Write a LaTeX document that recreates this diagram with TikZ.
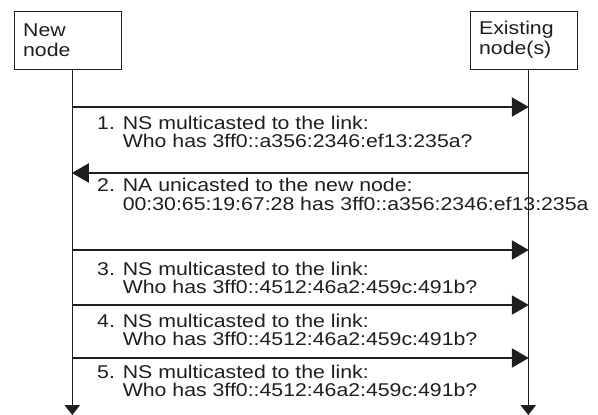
\documentclass[tikz,border=0pt]{standalone}
\usepackage{fontspec}
\setmainfont{Liberation Sans}[FakeStretch=1.15]
\usetikzlibrary{arrows.meta}
\definecolor{ink}{HTML}{1E1E1E}
\begin{document}
\begin{tikzpicture}[x=1pt,y=-1pt,
  font=\fontsize{18.5}{18.5}\selectfont,
  actor/.style={draw=ink,line width=1.3pt,minimum width=107pt,minimum height=58pt,
    anchor=north west,inner xsep=9pt,text width=89pt,align=left,text=ink,
    font=\fontsize{18.5}{20}\selectfont},
  life/.style={draw=ink,line width=1.3pt,-{Triangle[length=10pt,width=15.5pt]}},
  msg/.style={draw=ink,line width=2.2pt,-{Triangle[length=17pt,width=19pt]},shorten >=-0.5pt},
  lbl/.style={anchor=base west,inner sep=0pt,text=ink}]
\useasboundingbox (0,0) rectangle (598,415);
\node[actor] (new) at (13.5,10.5) {New\\node};
\node[actor] (ex) at (469.5,10.5) {Existing\\node(s)};
\coordinate (nl) at (72.3,68.5);
\coordinate (el) at (528.3,68.5);
\coordinate (nlend) at (72.3,415);
\coordinate (elend) at (528.3,415);
\draw[life] (nl) -- (nlend);
\draw[life] (el) -- (elend);
% message levels
\foreach \i/\y in {1/107,2/173,3/250,4/305,5/358}{
  \coordinate (L\i) at (72.3,\y);
  \coordinate (R\i) at (528.3,\y);
}
\draw[msg] (L1) -- (R1);
\draw[msg] (R2) -- (L2);
\draw[msg] (L3) -- (R3);
\draw[msg] (L4) -- (R4);
\draw[msg] (L5) -- (R5);
\newcommand{\msgtext}[2]{\begin{tabular}{@{}l@{ }l@{}}#1 & #2\end{tabular}}
\node[lbl] (t1) at (97,129) {\begin{tabular}[t]{@{}l@{ }l@{}}1. & NS multicasted to the link:\\ & Who has 3ff0::a356:2346:ef13:235a?\end{tabular}};
\node[lbl] (t2) at (97,191.5) {\begin{tabular}[t]{@{}l@{ }l@{}}2. & NA unicasted to the new node:\\ & 00:30:65:19:67:28 has 3ff0::a356:2346:ef13:235a\end{tabular}};
\node[lbl] (t3) at (97,275) {\begin{tabular}[t]{@{}l@{ }l@{}}3. & NS multicasted to the link:\\ & Who has 3ff0::4512:46a2:459c:491b?\end{tabular}};
\node[lbl] (t4) at (97,327) {\begin{tabular}[t]{@{}l@{ }l@{}}4. & NS multicasted to the link:\\ & Who has 3ff0::4512:46a2:459c:491b?\end{tabular}};
\node[lbl] (t5) at (97,378) {\begin{tabular}[t]{@{}l@{ }l@{}}5. & NS multicasted to the link:\\ & Who has 3ff0::4512:46a2:459c:491b?\end{tabular}};
\end{tikzpicture}
\end{document}
